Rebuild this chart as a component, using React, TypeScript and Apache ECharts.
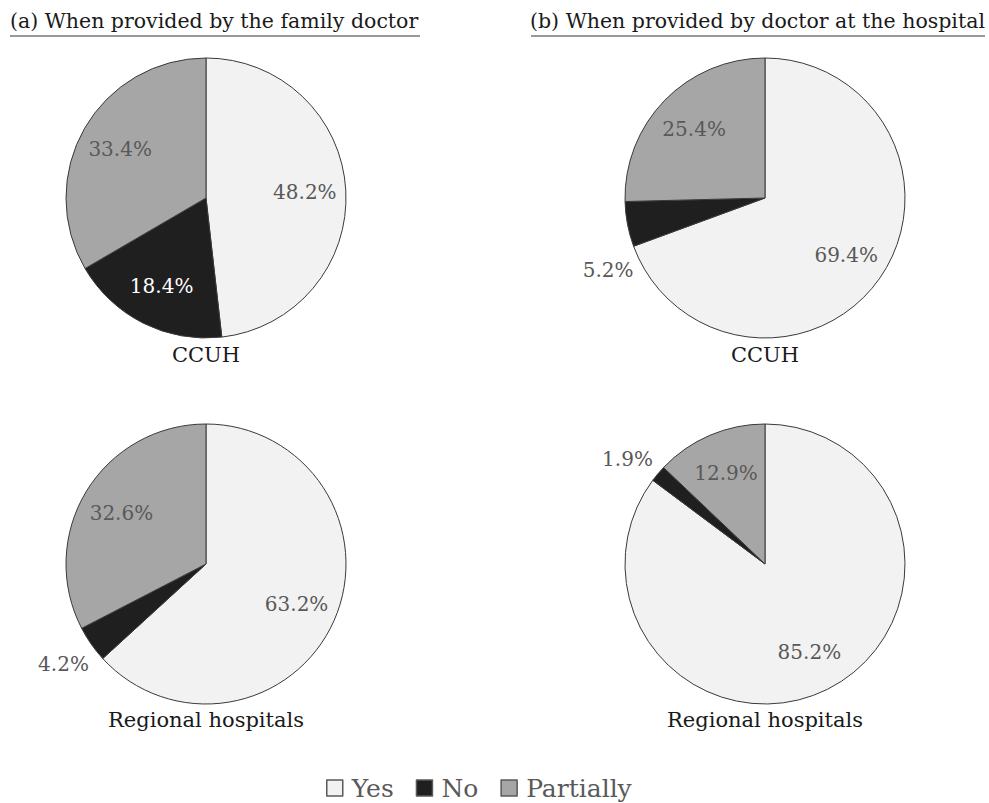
import React, { useEffect, useRef } from "react";
import * as echarts from "echarts";

const categories = ["Yes", "No", "Partially"];
const ccuhFamily = [48.2, 18.4, 33.4];
const regionalFamily = [63.2, 4.2, 32.6];
const ccuhHospital = [69.4, 5.2, 25.4];
const regionalHospital = [85.2, 1.9, 12.9];
const panelTitles = ["(a) When provided by the family doctor", "(b) When provided by doctor at the hospital"];
const groupLabels = ["CCUH", "Regional hospitals"];

const colors = ["#f2f2f2", "#1f1f1f", "#a6a6a6"];
const FONT = "DejaVu Serif";
const R = 140;

function makeSeries(values: number[], center: number[], outsideIdx: number[], shift: number[]) {
  const visible: any = {
    type: "pie",
    radius: R,
    center,
    startAngle: 90,
    clockwise: true,
    avoidLabelOverlap: false,
    silent: true,
    itemStyle: { borderColor: "#3a3a3a", borderWidth: 1 },
    labelLayout: { dx: shift[0], dy: shift[1] },
    labelLine: { show: false, length: 4, length2: 0 },
    data: values.map((v, i) => ({
      name: categories[i],
      value: v,
      itemStyle: { color: colors[i] },
      label: outsideIdx.includes(i)
        ? { show: true, position: "outside", color: "#595959", fontSize: 20, fontFamily: FONT, formatter: (p: any) => p.value.toFixed(1) + "%" }
        : { show: false },
      labelLine: { show: false, length: 4, length2: 0 },
    })),
  };
  const ghost = {
    type: "pie",
    radius: [52, R],
    center,
    startAngle: 90,
    clockwise: true,
    silent: true,
    avoidLabelOverlap: false,
    itemStyle: { color: "rgba(0,0,0,0)" },
    labelLine: { show: false },
    data: values.map((v, i) => ({
      name: "g-" + categories[i],
      value: v,
      label: outsideIdx.includes(i)
        ? { show: false }
        : {
            show: true,
            position: "inside",
            color: i === 1 ? "#ffffff" : "#595959",
            fontSize: 20,
            fontFamily: FONT,
            formatter: (p: any) => p.value.toFixed(1) + "%",
          },
    })),
  };
  return [visible, ghost];
}

export default function App() {
  const ref = useRef<HTMLDivElement>(null);
  useEffect(() => {
    document.body.style.margin = "0";
    const chart = echarts.init(ref.current!, null, { renderer: "svg" });
    const cxL = 206, cxR = 765, cyT = 198, cyB = 564;
    const titleStyle = { fontSize: 20.5, fontFamily: FONT, color: "#1a1a1a", fontWeight: "normal" as const };
    const subStyle = { fontSize: 21, fontFamily: FONT, color: "#1a1a1a", fontWeight: "normal" as const };
    chart.setOption({
      animation: false,
      backgroundColor: "#ffffff",
      title: [
        { text: panelTitles[0], left: 10, top: 10, textStyle: titleStyle, padding: 0 },
        { text: panelTitles[1], left: 530, top: 10, textStyle: titleStyle, padding: 0 },
        { text: groupLabels[0], left: cxL, top: 344, textAlign: "center", textStyle: subStyle, padding: 0 },
        { text: groupLabels[0], left: cxR, top: 344, textAlign: "center", textStyle: subStyle, padding: 0 },
        { text: groupLabels[1], left: cxL, top: 709, textAlign: "center", textStyle: subStyle, padding: 0 },
        { text: groupLabels[1], left: cxR, top: 709, textAlign: "center", textStyle: subStyle, padding: 0 },
      ],
      graphic: [
        { type: "line", shape: { x1: 10, y1: 36, x2: 420, y2: 36 }, style: { stroke: "#333", lineWidth: 1.2 } },
        { type: "line", shape: { x1: 531, y1: 36, x2: 985, y2: 36 }, style: { stroke: "#333", lineWidth: 1.2 } },
      ],
      legend: {
        data: categories,
        left: 326,
        top: 775,
        padding: 0,
        icon: "rect",
        itemWidth: 16,
        itemHeight: 16,
        itemGap: 22,
        selectedMode: false,
        itemStyle: { borderColor: "#595959", borderWidth: 1.5 },
        textStyle: { fontSize: 25, fontFamily: FONT, color: "#595959", padding: [0, 0, 0, 4], lineHeight: 26 },
      },
      series: [
        ...makeSeries(ccuhFamily, [cxL, cyT], [], [0, 0]),
        ...makeSeries(ccuhHospital, [cxR, cyT], [1], [15, 45]),
        ...makeSeries(regionalFamily, [cxL, cyB], [1], [6, 18]),
        ...makeSeries(regionalHospital, [cxR, cyB], [1], [3, -12]),
      ],
    });
    return () => chart.dispose();
  }, []);
  return <div ref={ref} style={{ width: 989, height: 803 }} />;
}
